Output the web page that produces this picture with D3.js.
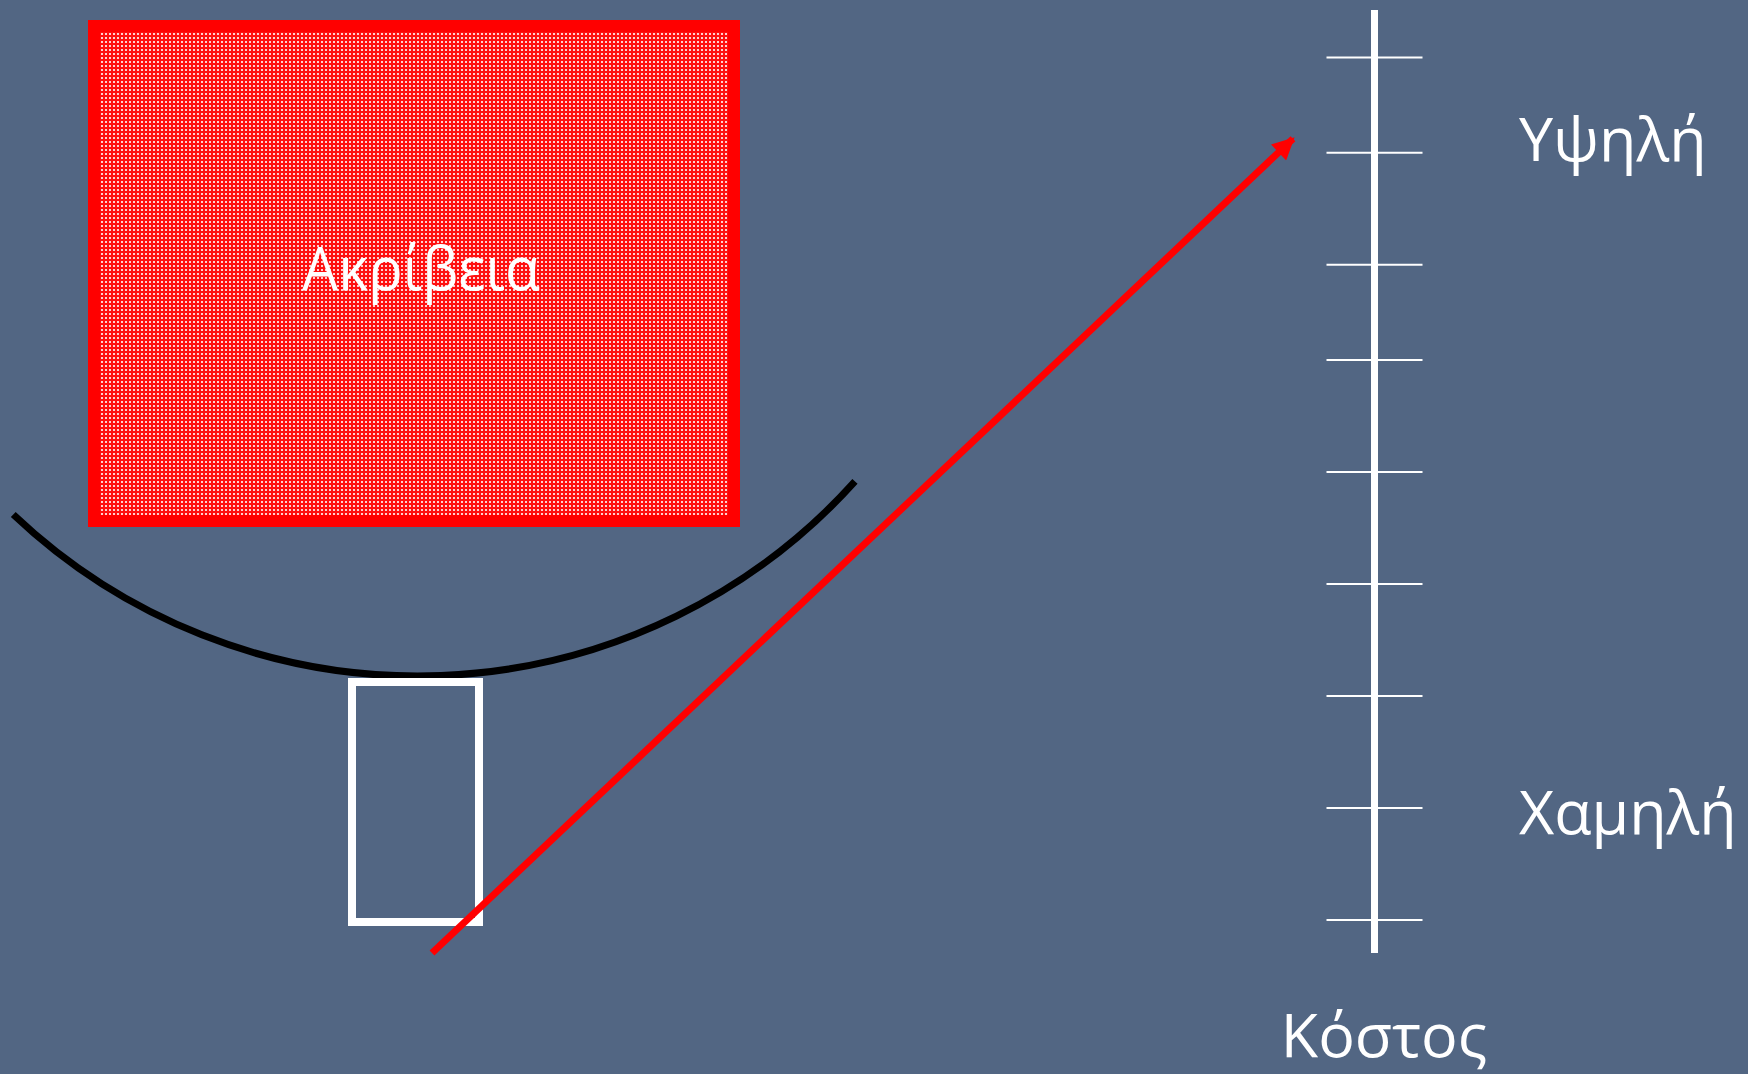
<!DOCTYPE html>
<html>
<head>
<meta charset="utf-8">
<script src="https://cdn.jsdelivr.net/npm/d3@7"></script>
<style>
  html, body { margin: 0; padding: 0; background: #526683; overflow: hidden; }
  svg { display: block; }
</style>
</head>
<body>
<svg id="chart" width="1748" height="1074"></svg>
<script>
// ---- data ----
const costTicks = [0.3, 1.3, 2.3, 3.3, 4.3, 5.3, 6.15, 7.15, 8.0];
const costLabels = ["Χαμηλή", "Υψηλή"];
const costLabelValues = [1.26, 7.27];
const axisTitle = "Κόστος";
const boxLabel = "Ακρίβεια";
const arrowValues = [0, 7.27];   // cost level at arrow start / tip

// ---- layout ----
const W = 1748, H = 1074;
const svg = d3.select("#chart");
svg.append("rect").attr("width", W).attr("height", H).attr("fill", "#526683");

const y = d3.scaleLinear().domain([0, 8.42]).range([953, 10]);
const x = d3.scaleLinear().domain([0, W]).range([0, W]);

const defs = svg.append("defs");
const pat = defs.append("pattern").attr("id", "dots")
  .attr("patternUnits", "userSpaceOnUse").attr("width", 4).attr("height", 4);
pat.append("rect").attr("width", 4).attr("height", 4).attr("fill", "#ff1010");
pat.append("rect").attr("x", 1).attr("y", 1).attr("width", 2).attr("height", 2).attr("fill", "#ffd0d0");

defs.append("marker").attr("id", "arrowHead")
  .attr("viewBox", "0 0 10 10").attr("refX", 9).attr("refY", 5)
  .attr("markerUnits", "userSpaceOnUse")
  .attr("markerWidth", 24).attr("markerHeight", 22)
  .attr("orient", "auto")
  .append("path").attr("d", "M0,0 L10,5 L0,10 Z").attr("fill", "#ff0000");

// Red box "Ακρίβεια"
svg.append("rect")
  .attr("x", 94).attr("y", 26).attr("width", 640).attr("height", 495)
  .attr("fill", "url(#dots)").attr("stroke", "#ff0000").attr("stroke-width", 12);
svg.append("text")
  .attr("x", 421).attr("y", 290)
  .attr("text-anchor", "middle")
  .attr("font-family", "'Open Sans', sans-serif").attr("font-size", 60)
  .attr("textLength", 238).attr("lengthAdjust", "spacingAndGlyphs")
  .attr("fill", "#ffffff").text(boxLabel);

// Black arc
const cx = 418, cy = 88, r = 588;
const p = d3.path();
p.arc(cx, cy, r, 133.5 * Math.PI / 180, 42.0 * Math.PI / 180, true);
svg.append("path").attr("d", p.toString())
  .attr("fill", "none").attr("stroke", "#000000").attr("stroke-width", 7);

// White small rectangle
svg.append("rect")
  .attr("x", 352).attr("y", 682).attr("width", 127).attr("height", 240)
  .attr("fill", "none").attr("stroke", "#ffffff").attr("stroke-width", 8);

// Red arrow
svg.append("line")
  .attr("x1", x(432)).attr("y1", y(arrowValues[0]))
  .attr("x2", x(1293)).attr("y2", y(arrowValues[1]))
  .attr("stroke", "#ff0000").attr("stroke-width", 7)
  .attr("marker-end", "url(#arrowHead)");

// Cost axis
const axisX = 1374.5;
svg.append("line")
  .attr("x1", axisX).attr("x2", axisX)
  .attr("y1", y.range()[1]).attr("y2", y.range()[0])
  .attr("stroke", "#ffffff").attr("stroke-width", 7);
const axis = d3.axisRight(y).tickValues(costTicks).tickSize(0).tickFormat("");
const ag = svg.append("g").attr("transform", `translate(${axisX},0)`).call(axis);
ag.select(".domain").remove();
ag.selectAll(".tick line")
  .attr("x1", -48).attr("x2", 48)
  .attr("stroke", "#ffffff").attr("stroke-width", 2);

svg.selectAll(".costLabel").data(costLabels).enter().append("text")
  .attr("class", "costLabel")
  .attr("x", 1519)
  .attr("y", (d, i) => y(costLabelValues[i]) + 22)
  .attr("font-family", "'Open Sans', sans-serif").attr("font-size", 61)
  .attr("fill", "#ffffff").text(d => d);

svg.append("text")
  .attr("x", 1384).attr("y", 1057)
  .attr("text-anchor", "middle")
  .attr("font-family", "'Open Sans', sans-serif").attr("font-size", 61)
  .attr("fill", "#ffffff").text(axisTitle);
</script>
</body>
</html>
